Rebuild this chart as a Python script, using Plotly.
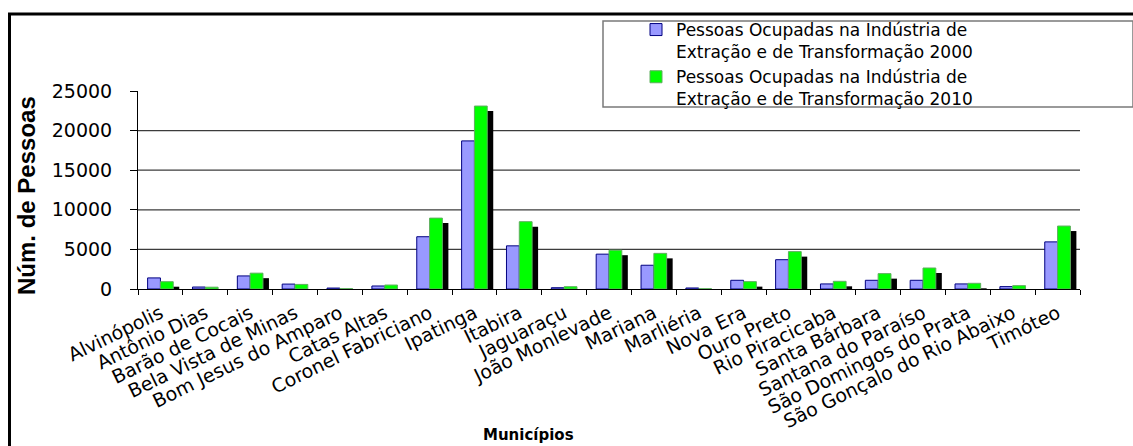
import plotly.graph_objects as go

# Municipalities and employed people in extraction/manufacturing industry
municipios = [
    "Alvinópolis", "Antônio Dias", "Barão de Cocais", "Bela Vista de Minas",
    "Bom Jesus do Amparo", "Catas Altas", "Coronel Fabriciano", "Ipatinga",
    "Itabira", "Jaguaraçu", "João Monlevade", "Mariana", "Marliéria",
    "Nova Era", "Ouro Preto", "Rio Piracicaba", "Santa Bárbara",
    "Santana do Paraíso", "São Domingos do Prata",
    "São Gonçalo do Rio Abaixo", "Timóteo",
]
ocupadas_2000 = [1400, 250, 1650, 620, 120, 380, 6600, 18700, 5450, 160,
                 4400, 3000, 130, 1100, 3700, 640, 1100, 1100, 640, 300, 5950]
ocupadas_2010 = [920, 230, 2000, 580, 40, 500, 8950, 23100, 8500, 290,
                 4900, 4500, 30, 930, 4720, 970, 1940, 2650, 720, 420, 7950]

nome_2000 = "Pessoas Ocupadas na Indústria de<br>Extração e de Transformação 2000"
nome_2010 = "Pessoas Ocupadas na Indústria de<br>Extração e de Transformação 2010"

y_ticks = [0, 5000, 10000, 15000, 20000, 25000]

# Canvas / plot-area geometry (pixels)
W, H = 1133, 446
L, R, T, B = 138, 1080, 91, 289           # plot area edges
Y_MAX = 25000
SHADOW_DROP = 5 * Y_MAX / (B - T)         # 5 px drop of the bar shadow
SHADOW_SHIFT = 6 / ((R - L) / len(municipios))  # 6 px to the right, category units


def px_x(x):
    return (x - L) / (R - L)


def px_y(y):
    return (B - y) / (B - T)


fig = go.Figure()

# drop shadow behind the 2010 bars
fig.add_trace(go.Bar(
    x=municipios, y=ocupadas_2010, base=-SHADOW_DROP,
    offset=SHADOW_SHIFT, width=0.2857,
    marker=dict(color="black", line=dict(width=0)),
    showlegend=False, hoverinfo="skip",
))
fig.add_trace(go.Bar(
    x=municipios, y=ocupadas_2000, name=nome_2000,
    marker=dict(color="#9999FF", line=dict(color="#000080", width=1)),
))
fig.add_trace(go.Bar(
    x=municipios, y=ocupadas_2010, name=nome_2010,
    marker=dict(color="#00FF00", line=dict(color="#5fae5f", width=1)),
))

shapes = []
# horizontal grid lines
for v in y_ticks[1:-1]:
    shapes.append(dict(type="line", xref="paper", yref="y", x0=0, x1=1,
                       y0=v, y1=v, line=dict(color="#3c3c3c", width=1.2),
                       layer="below"))
# legend frame
shapes.append(dict(type="rect", xref="paper", yref="paper",
                   x0=px_x(603), x1=px_x(1133), y0=px_y(107), y1=px_y(21),
                   line=dict(color="#7a7a7a", width=1.5), fillcolor="white",
                   layer="below"))
# outer chart frame
shapes.append(dict(type="rect", xref="paper", yref="paper",
                   x0=px_x(9.5), x1=px_x(1200), y0=px_y(500), y1=px_y(14),
                   line=dict(color="black", width=3), layer="above"))

annotations = [
    dict(text="<b>Núm. de Pessoas</b>", textangle=-90, xref="paper", yref="paper",
         x=px_x(26), y=px_y(196), xanchor="center", yanchor="middle",
         showarrow=False,
         font=dict(family="Liberation Sans Narrow, Liberation Sans, Arial", size=24,
                   color="black")),
    dict(text="<b>Municípios</b>", xref="paper", yref="paper",
         x=px_x(528), y=px_y(435), xanchor="center", yanchor="middle",
         showarrow=False,
         font=dict(family="DejaVu Sans", size=15, color="black")),
]

fig.update_layout(
    width=W, height=H,
    margin=dict(l=L, r=W - R, t=T, b=H - B, pad=0, autoexpand=False),
    paper_bgcolor="white", plot_bgcolor="white",
    barmode="group", bargap=0.4286, bargroupgap=0,
    font=dict(family="DejaVu Sans", color="black"),
    showlegend=True,
    legend=dict(
        xref="container", yref="container",
        x=636 / W, y=1 - 12 / H, xanchor="left", yanchor="top",
        bgcolor="rgba(0,0,0,0)", borderwidth=0,
        font=dict(family="DejaVu Sans", size=17, color="black"),
        valign="top", tracegroupgap=0,
    ),
    shapes=shapes,
    annotations=annotations,
)

fig.update_xaxes(
    type="category", tickson="boundaries",
    showline=True, linecolor="black", linewidth=1,
    ticks="outside", ticklen=5, tickcolor="black",
    tickangle=-26, ticklabelstandoff=5,
    tickfont=dict(family="DejaVu Sans", size=19, color="black"),
    showgrid=False,
)
fig.update_yaxes(
    range=[0, Y_MAX], tickvals=y_ticks, tickformat="d",
    showline=True, linecolor="black", linewidth=1,
    ticks="outside", ticklen=7, tickcolor="black",
    ticklabelstandoff=14,
    tickfont=dict(family="DejaVu Sans", size=19, color="black"),
    showgrid=False, zeroline=False,
)

fig.write_html("out.html")
